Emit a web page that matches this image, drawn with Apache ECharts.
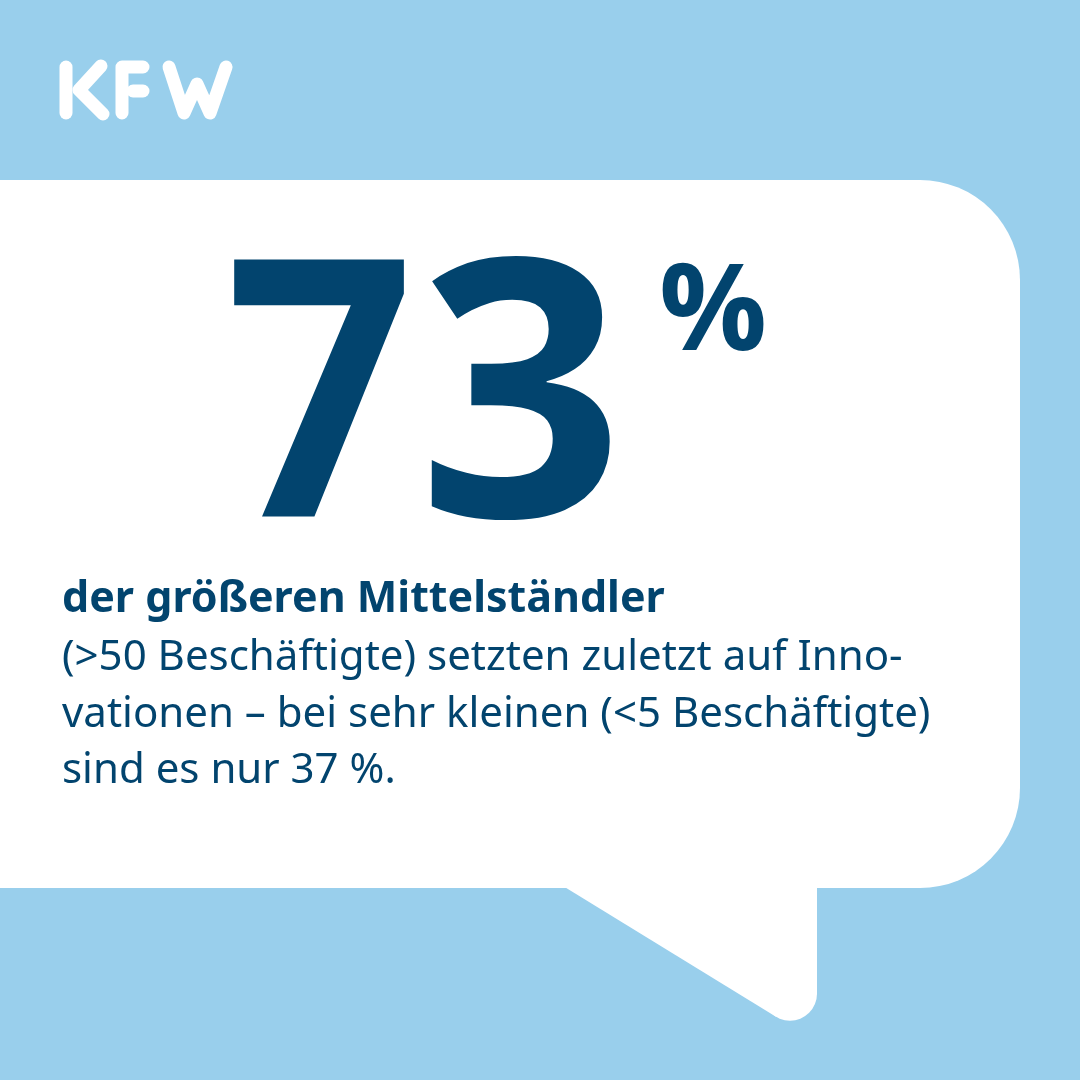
<!DOCTYPE html>
<html><head><meta charset="utf-8">
<script src="https://cdn.jsdelivr.net/npm/echarts@6/dist/echarts.min.js"></script>
<style>html,body{margin:0;padding:0;background:#99cfec}#c{width:1080px;height:1080px}</style>
</head><body><div id="c"></div>
<script>
// ---- data ----
const shareValues = [73, 37];
const groupLabels = ['größere Mittelständler (>50 Beschäftigte)', 'sehr kleine (<5 Beschäftigte)'];
const unitLabel = '%';
const headline = 'der größeren Mittelständler';
const bodyLines = [
  '(>50 Beschäftigte) setzten zuletzt auf Inno-',
  'vationen – bei sehr kleinen (<5 Beschäftigte)',
  'sind es nur ' + shareValues[1] + ' %.'
];

// ---- layout ----
const DARK = '#02446e';
const K = 0.286;
function txt(x, baseline, text, fs, weight, align, extra) {
  return Object.assign({
    type: 'text', x: x, y: baseline - K * fs,
    style: { text: text, font: weight + ' ' + fs + 'px "Noto Sans"', fill: DARK,
      align: align || 'left', verticalAlign: 'middle' }
  }, extra || {});
}
const bigDigits = String(shareValues[0]).split('');
const digitCenters = [320, 521];
const digitScaleX = [0.92, 1];

const logoStroke = { stroke: '#fff', lineWidth: 13, lineCap: 'round', lineJoin: 'round', fill: null };

const graphic = [
  { type: 'rect', shape: { x: -20, y: 180, width: 1040, height: 708, r: [0, 100, 100, 0] }, style: { fill: '#ffffff' } },
  { type: 'polygon', shape: { points: [[563, 886], [817, 886], [817, 993.7], [776, 1016.8]] }, style: { fill: '#ffffff' } },
  { type: 'circle', shape: { cx: 790, cy: 993.7, r: 27 }, style: { fill: '#ffffff' } },
  // KFW logo
  { type: 'polyline', shape: { points: [[66, 67], [66, 113]] }, style: logoStroke },
  { type: 'polyline', shape: { points: [[101, 66], [79, 90], [103, 114]] }, style: logoStroke },
  { type: 'polyline', shape: { points: [[122, 113], [122, 67], [143, 67]] }, style: logoStroke },
  { type: 'polyline', shape: { points: [[133, 91], [143, 91]] }, style: logoStroke },
  { type: 'polyline', shape: { points: [[169, 67], [184, 113], [197, 84], [210, 113], [226, 67]] }, style: logoStroke }
];
bigDigits.forEach(function (d, i) {
  graphic.push({
    type: 'text', x: digitCenters[i], y: 517 - K * 360, scaleX: digitScaleX[i],
    style: { text: d, font: 'bold 360px "Open Sans"', fill: DARK, align: 'center', verticalAlign: 'middle' }
  });
});
graphic.push({
  type: 'text', x: 713, y: 350 - K * 120,
  style: { text: unitLabel, font: 'bold 120px "Open Sans"', fill: DARK, align: 'center', verticalAlign: 'middle' }
});
graphic.push(txt(62, 612, headline, 43, 'bold'));
const baselines = [670, 727, 783];
bodyLines.forEach(function (l, i) { graphic.push(txt(62, baselines[i], l, 42, 'normal')); });

const chart = echarts.init(document.getElementById('c'));
chart.setOption({
  backgroundColor: '#99cfec',
  animation: false,
  graphic: graphic
});
</script></body></html>
